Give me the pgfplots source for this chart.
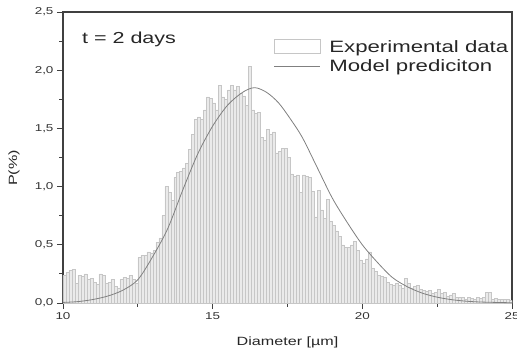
\documentclass[border=0pt]{standalone}
\usepackage{pgfplots}
\pgfplotsset{compat=1.18}
\usepackage{fontspec}
\setmainfont[FakeStretch=1.35]{Liberation Sans}
\definecolor{barfill}{HTML}{EAEAEA}
\definecolor{baredge}{HTML}{C6C6C6}
\definecolor{curvecol}{HTML}{808080}
\definecolor{axcol}{HTML}{404040}
\begin{document}
\begin{tikzpicture}
\begin{axis}[
  scale only axis, width=449bp, height=291bp,
  xmin=10, xmax=25, ymin=0, ymax=2.5,
  xtick={10,15,20,25}, minor xtick={12.5,17.5,22.5},
  ytick={0,0.5,1,1.5,2,2.5}, minor ytick={0.25,0.75,1.25,1.75,2.25},
  xtick pos=bottom, ytick pos=left,
  tick align=outside,
  major tick length=6bp, minor tick length=3.5bp,
  every tick/.style={axcol, line width=0.9bp},
  axis line style={axcol, line width=1.1bp},
  /pgf/number format/assume math mode=true,
  yticklabel style={/pgf/number format/.cd, use comma, fixed, fixed zerofill, precision=1},
  xticklabel style={/pgf/number format/.cd, fixed, precision=0},
  ticklabel style={font=\fontsize{10}{11}\selectfont, text=black!80},
  xlabel={Diameter [µm]}, ylabel={P(\%)},
  label style={text=black!85},
  xlabel style={font=\fontsize{12}{14}\selectfont, at={(axis description cs:0.5,-0.135)}, anchor=center},
  ylabel style={font=\fontsize{12}{14}\selectfont, at={(axis description cs:-0.109,0.464)}, anchor=center, rotate=0},
  legend style={draw=none, fill=none, font=\fontsize{16.5}{18}\selectfont, text=black!85,
    at={(rel axis cs:0.462,0.915)}, anchor=north west, row sep=1bp, column sep=7bp},
  legend cell align=left,
  clip=true,
]
\addplot[ybar interval, fill=barfill, draw=baredge, line width=0.5bp,
  legend image code/.code={\draw[fill=white, draw=baredge, line width=0.6bp] (0bp,-6bp) rectangle (46bp,8bp);}]
table[x=x, y=y] {
x y
10.0 0.24
10.1 0.26
10.2 0.28
10.3 0.29
10.4 0.17
10.5 0.24
10.6 0.23
10.7 0.25
10.8 0.20
10.9 0.21
11.0 0.18
11.1 0.16
11.2 0.25
11.3 0.24
11.4 0.17
11.5 0.18
11.6 0.20
11.7 0.14
11.8 0.13
11.9 0.20
12.0 0.22
12.1 0.21
12.2 0.24
12.3 0.20
12.4 0.17
12.5 0.39
12.6 0.41
12.7 0.41
12.8 0.44
12.9 0.43
13.0 0.45
13.1 0.52
13.2 0.56
13.3 0.75
13.4 1.00
13.5 0.95
13.6 0.88
13.7 1.08
13.8 1.12
13.9 1.13
14.0 1.16
14.1 1.20
14.2 1.32
14.3 1.45
14.4 1.58
14.5 1.60
14.6 1.58
14.7 1.66
14.8 1.77
14.9 1.76
15.0 1.72
15.1 1.66
15.2 1.87
15.3 1.77
15.4 1.75
15.5 1.83
15.6 1.87
15.7 1.83
15.8 1.86
15.9 1.80
16.0 1.78
16.1 1.70
16.2 2.03
16.3 1.66
16.4 1.63
16.5 1.64
16.6 1.42
16.7 1.40
16.8 1.49
16.9 1.45
17.0 1.47
17.1 1.29
17.2 1.30
17.3 1.33
17.4 1.33
17.5 1.25
17.6 1.11
17.7 1.09
17.8 1.10
17.9 0.95
18.0 1.10
18.1 1.09
18.2 1.08
18.3 0.96
18.4 0.74
18.5 0.97
18.6 0.80
18.7 0.73
18.8 0.89
18.9 0.70
19.0 0.67
19.1 0.62
19.2 0.57
19.3 0.50
19.4 0.48
19.5 0.48
19.6 0.50
19.7 0.53
19.8 0.45
19.9 0.37
20.0 0.34
20.1 0.38
20.2 0.44
20.3 0.30
20.4 0.27
20.5 0.24
20.6 0.23
20.7 0.22
20.8 0.18
20.9 0.16
21.0 0.15
21.1 0.17
21.2 0.15
21.3 0.13
21.4 0.21
21.5 0.17
21.6 0.13
21.7 0.14
21.8 0.15
21.9 0.12
22.0 0.11
22.1 0.10
22.2 0.11
22.3 0.08
22.4 0.09
22.5 0.12
22.6 0.08
22.7 0.09
22.8 0.06
22.9 0.07
23.0 0.08
23.1 0.05
23.2 0.05
23.3 0.05
23.4 0.03
23.5 0.05
23.6 0.04
23.7 0.03
23.8 0.05
23.9 0.04
24.0 0.05
24.1 0.09
24.2 0.09
24.3 0.03
24.4 0.04
24.5 0.03
24.6 0.03
24.7 0.03
24.8 0.03
24.9 0.02
25.0 0.02
};
\addlegendentry{Experimental data}
\addplot[curvecol, line width=0.8bp, smooth, no markers,
  legend image code/.code={\draw[curvecol, line width=0.8bp] (0bp,0bp) -- (46bp,0bp);}]
table[x=x, y=y] {
x y
10.0 0.005
10.5 0.012
11.0 0.03
11.5 0.06
12.0 0.11
12.5 0.20
13.0 0.40
13.5 0.64
14.0 0.97
14.5 1.28
15.0 1.52
15.5 1.70
16.0 1.81
16.4 1.85
16.8 1.81
17.2 1.72
17.6 1.58
18.0 1.42
18.5 1.16
19.0 0.90
19.5 0.69
20.0 0.50
20.5 0.35
21.0 0.22
21.5 0.14
22.0 0.085
22.5 0.05
23.0 0.028
23.5 0.015
24.0 0.008
25.0 0.002
};
\addlegendentry{Model prediciton}
\node[anchor=west, font=\fontsize{16}{18}\selectfont, text=black!85, inner sep=0pt] at (rel axis cs:0.042,0.907) {t = 2 days};
\end{axis}
\pgfresetboundingbox
\useasboundingbox ([xshift=-63bp, yshift=-53bp]current axis.south west) rectangle ++(517bp,356bp);
\end{tikzpicture}
\end{document}
